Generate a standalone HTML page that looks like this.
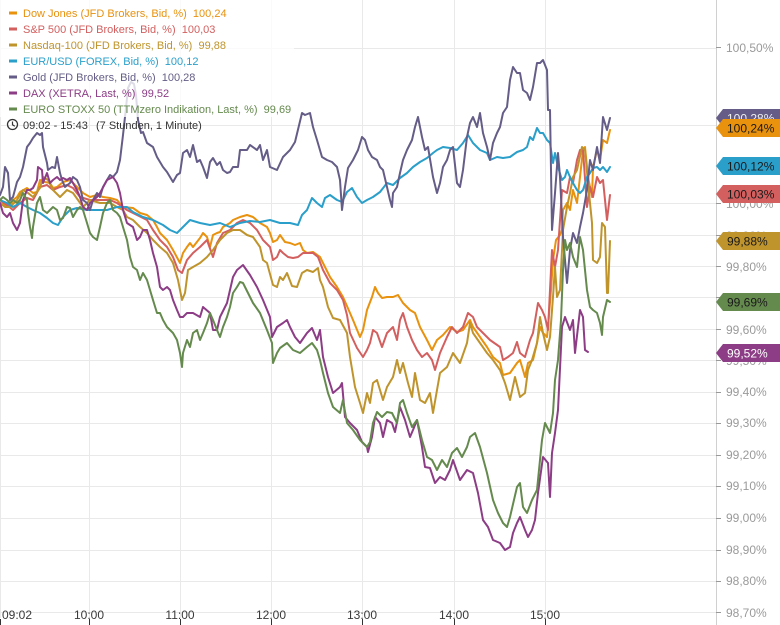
<!DOCTYPE html>
<html>
<head>
<meta charset="utf-8">
<style>
  html,body{margin:0;padding:0;background:#fff;}
  svg{display:block;}
  text{font-family:"Liberation Sans", Arial, sans-serif;}
</style>
</head>
<body>
<svg width="780" height="625" viewBox="0 0 780 625" xmlns="http://www.w3.org/2000/svg">
  <rect x="0" y="0" width="780" height="625" fill="#fff"/>
  <!-- horizontal grid -->
  <g stroke="#e9e9e9" stroke-width="1">
    <line x1="0" y1="48.5" x2="716" y2="48.5"/>
    <line x1="0" y1="125.5" x2="716" y2="125.5"/>
    <line x1="0" y1="203.5" x2="716" y2="203.5"/>
    <line x1="0" y1="235.5" x2="716" y2="235.5"/>
    <line x1="0" y1="266.5" x2="716" y2="266.5"/>
    <line x1="0" y1="297.5" x2="716" y2="297.5"/>
    <line x1="0" y1="329.5" x2="716" y2="329.5"/>
    <line x1="0" y1="360.5" x2="716" y2="360.5"/>
    <line x1="0" y1="392.5" x2="716" y2="392.5"/>
    <line x1="0" y1="423.5" x2="716" y2="423.5"/>
    <line x1="0" y1="455.5" x2="716" y2="455.5"/>
    <line x1="0" y1="486.5" x2="716" y2="486.5"/>
    <line x1="0" y1="518.5" x2="716" y2="518.5"/>
    <line x1="0" y1="550.5" x2="716" y2="550.5"/>
    <line x1="0" y1="581.5" x2="716" y2="581.5"/>
    <line x1="0" y1="612.5" x2="716" y2="612.5"/>
  </g>
  <!-- vertical grid -->
  <g stroke="#e9e9e9" stroke-width="1">
    <line x1="0.5" y1="0" x2="0.5" y2="618"/>
    <line x1="89.5" y1="0" x2="89.5" y2="618"/>
    <line x1="180.5" y1="0" x2="180.5" y2="618"/>
    <line x1="271.5" y1="0" x2="271.5" y2="618"/>
    <line x1="362.5" y1="0" x2="362.5" y2="618"/>
    <line x1="454.5" y1="0" x2="454.5" y2="618"/>
    <line x1="545.5" y1="0" x2="545.5" y2="618"/>
  </g>
  <!-- right axis line -->
  <line x1="716.5" y1="0" x2="716.5" y2="625" stroke="#d0d0d0" stroke-width="1"/>
  <!-- right ticks -->
  <g stroke="#999" stroke-width="1">
    <line x1="716" y1="47.5" x2="721" y2="47.5"/>
    <line x1="716" y1="203.5" x2="721" y2="203.5"/>
    <line x1="716" y1="235.5" x2="721" y2="235.5"/>
    <line x1="716" y1="266.5" x2="721" y2="266.5"/>
    <line x1="716" y1="297.5" x2="721" y2="297.5"/>
    <line x1="716" y1="329.5" x2="721" y2="329.5"/>
    <line x1="716" y1="360.5" x2="721" y2="360.5"/>
    <line x1="716" y1="392.5" x2="721" y2="392.5"/>
    <line x1="716" y1="423.5" x2="721" y2="423.5"/>
    <line x1="716" y1="455.5" x2="721" y2="455.5"/>
    <line x1="716" y1="486.5" x2="721" y2="486.5"/>
    <line x1="716" y1="518.5" x2="721" y2="518.5"/>
    <line x1="716" y1="550.5" x2="721" y2="550.5"/>
    <line x1="716" y1="581.5" x2="721" y2="581.5"/>
    <line x1="716" y1="612.5" x2="721" y2="612.5"/>
  </g>
  <!-- right labels -->
  <g fill="#9a9a9a" font-size="12">
    <text x="726" y="52">100,50%</text>
    <text x="726" y="208">100,00%</text>
    <text x="726" y="240">99,90%</text>
    <text x="726" y="271">99,80%</text>
    <text x="726" y="302">99,70%</text>
    <text x="726" y="334">99,60%</text>
    <text x="726" y="365">99,50%</text>
    <text x="726" y="396">99,40%</text>
    <text x="726" y="427">99,30%</text>
    <text x="726" y="459">99,20%</text>
    <text x="726" y="490">99,10%</text>
    <text x="726" y="522">99,00%</text>
    <text x="726" y="554">98,90%</text>
    <text x="726" y="585">98,80%</text>
    <text x="726" y="617">98,70%</text>
  </g>
  <!-- bottom ticks -->
  <g stroke="#333" stroke-width="1">
    <line x1="0.5" y1="619" x2="0.5" y2="625"/>
    <line x1="89.5" y1="619" x2="89.5" y2="625"/>
    <line x1="180.5" y1="619" x2="180.5" y2="625"/>
    <line x1="271.5" y1="619" x2="271.5" y2="625"/>
    <line x1="362.5" y1="619" x2="362.5" y2="625"/>
    <line x1="454.5" y1="619" x2="454.5" y2="625"/>
    <line x1="545.5" y1="619" x2="545.5" y2="625"/>
  </g>
  <!-- x labels -->
  <g fill="#3a3a3a" font-size="12">
    <text x="2" y="619">09:02</text>
    <text x="89" y="619" text-anchor="middle">10:00</text>
    <text x="180" y="619" text-anchor="middle">11:00</text>
    <text x="271" y="619" text-anchor="middle">12:00</text>
    <text x="362" y="619" text-anchor="middle">13:00</text>
    <text x="454" y="619" text-anchor="middle">14:00</text>
    <text x="545" y="619" text-anchor="middle">15:00</text>
  </g>

  <g fill="none" stroke-width="2" stroke-linejoin="round" stroke-linecap="round">
    <!-- Dow Jones -->
    <polyline stroke="#e8920e" points="0,200 5,205 10,207 13,200 17,197 20,192 27,188 33,193 37,192 40,180 45,182 50,183 53,188 57,187 63,182 70,180 77,187 83,193 90,197 97,195 103,197 110,198 117,200 123,207 133,208 140,213 147,215 153,220 157,227 160,233 167,240 173,250 180,263 183,253 187,247 190,243 193,247 200,238 203,233 207,237 210,247 213,235 217,233 220,232 223,227 230,223 233,220 240,217 247,215 253,217 260,223 267,227 270,233 273,242 277,240 280,235 285,242 290,243 295,245 300,243 303,250 307,253 313,252 320,257 323,263 330,277 337,287 343,297 350,313 353,320 360,337 363,330 367,310 372,297 375,287 378,293 382,298 387,297 393,297 398,295 403,303 410,310 415,313 420,327 427,340 432,350 437,340 443,335 450,327 457,332 463,330 470,320 473,327 480,337 487,347 493,357 500,363 503,375 510,373 517,363 520,360 523,370 525,377 528,363 533,360 537,343 540,327 543,333 547,337 548,327 551,290 553,260 556,240 560,235 562,230 563,210 567,203 570,210 573,190 577,203 580,177 583,150 585,147 588,177 592,197 593,167 597,150 600,160 603,140 607,143 610,130"/>
    <!-- S&P 500 -->
    <polyline stroke="#d35f5f" points="0,200 7,205 13,210 20,203 27,198 33,200 40,187 47,185 53,190 60,187 67,185 73,188 80,197 90,200 100,200 110,200 117,203 127,210 137,215 147,220 153,230 160,240 167,247 173,257 178,270 182,273 187,260 193,253 200,247 207,240 213,257 217,243 223,233 230,230 237,223 243,220 250,223 257,230 263,240 270,247 273,260 277,257 280,250 283,253 288,257 293,258 298,257 303,253 313,253 318,257 323,270 330,283 337,290 343,300 347,315 350,333 357,348 363,357 367,350 370,343 373,330 377,333 382,347 387,333 393,327 397,340 400,320 403,313 407,327 412,340 417,350 422,357 427,353 432,360 435,370 440,353 447,337 452,327 457,333 463,327 468,313 473,317 477,327 483,333 490,340 500,347 503,360 508,357 513,353 517,342 520,353 525,357 530,340 533,333 538,303 542,310 545,317 548,330 550,290 552,250 555,267 558,250 562,190 567,193 570,177 573,183 577,160 580,150 583,150 587,207 590,187 593,197 597,177 600,183 603,180 607,220 610,195"/>
    <!-- Nasdaq -->
    <polyline stroke="#bf942c" points="0,203 5,207 10,207 17,200 23,190 28,193 33,197 40,188 43,177 48,180 53,190 60,197 67,190 73,193 83,207 90,200 100,203 110,203 117,207 123,210 127,217 133,220 140,227 147,233 153,240 160,247 167,253 173,263 178,280 182,300 185,293 188,270 193,267 200,263 207,257 213,250 220,240 227,233 233,230 240,230 247,235 253,237 260,247 263,260 267,263 273,285 277,287 280,277 283,280 287,273 292,286 297,287 302,273 307,270 313,272 318,268 320,280 323,287 328,307 333,318 340,320 347,333 350,357 355,387 360,403 363,413 367,393 370,403 373,383 377,380 380,390 383,400 387,387 393,377 397,360 400,373 403,363 408,383 412,397 415,373 420,400 425,403 430,393 433,413 437,390 440,373 447,367 453,353 460,363 467,343 470,323 473,333 480,343 487,353 493,360 500,370 505,383 510,400 515,377 520,397 525,393 528,370 532,360 537,343 540,317 543,333 547,350 550,337 553,297 555,267 557,297 560,290 563,230 567,207 570,193 573,177 577,170 582,147 585,150 588,183 592,223 593,260 597,263 600,257 602,223 605,227 607,293 608,293 610,241"/>
    <!-- EUR/USD -->
    <polyline stroke="#2a9fca" points="0,200 7,203 13,207 20,203 27,207 33,210 40,213 47,218 53,223 58,225 63,217 70,210 77,208 87,210 97,210 107,210 117,207 127,207 133,212 143,217 153,220 163,225 170,230 177,233 182,228 190,220 200,223 210,225 220,223 230,227 240,223 250,221 260,222 270,220 280,223 290,223 298,225 302,215 307,210 312,198 317,203 322,207 325,198 330,195 337,200 342,202 347,192 352,188 357,197 362,203 367,200 373,197 380,192 387,183 393,185 400,178 407,173 413,167 420,162 427,158 433,153 437,150 443,147 450,148 457,150 463,143 468,135 473,143 480,150 487,153 490,160 497,157 503,158 510,157 517,152 523,150 527,147 530,137 533,140 537,128 540,133 543,133 547,140 550,143 553,163 555,153 558,167 562,180 565,177 567,170 570,177 573,183 577,190 580,193 583,190 587,177 590,173 593,168 597,167 600,170 603,167 607,172 610,167"/>
    <!-- Gold -->
    <polyline stroke="#655d87" points="0,195 3,187 5,167 8,173 10,200 13,197 17,182 20,177 23,167 27,147 30,143 33,138 37,133 40,135 42,133 43,147 47,163 48,170 52,167 55,168 57,157 60,173 62,180 65,187 70,183 73,177 77,180 80,187 83,200 87,203 90,210 93,200 97,193 100,197 103,187 107,180 110,175 113,177 117,172 120,160 123,135 126,108 128,88 131,82 134,84 136,95 138,120 141,133 143,132 147,143 153,147 157,157 160,162 163,167 167,172 170,177 173,182 177,175 180,173 183,153 187,150 190,157 193,145 197,162 200,160 203,167 207,178 210,162 213,158 217,165 220,162 223,170 227,173 230,172 233,167 238,167 240,150 247,150 250,145 257,150 260,145 263,160 267,150 270,167 277,170 283,157 290,150 295,142 302,113 305,115 310,113 313,127 317,140 322,157 327,160 332,162 337,167 340,180 342,210 345,187 348,168 353,160 358,150 362,137 365,140 368,150 372,157 377,160 380,167 383,170 387,187 390,200 392,207 393,193 397,187 400,173 403,160 407,150 412,140 415,127 418,117 422,137 425,150 428,147 433,177 437,193 440,183 443,167 447,160 450,150 453,147 457,183 460,187 463,170 467,137 470,123 473,117 477,127 480,113 483,133 487,147 490,160 493,143 497,133 500,127 503,113 507,107 510,80 513,67 517,73 520,73 523,90 527,93 530,100 533,87 537,63 540,63 543,60 547,70 548,110 550,110 552,230 555,193 558,153 560,177 563,237 567,283 570,250 573,233 577,243 580,227 583,213 587,190 590,160 593,170 597,147 600,163 603,117 607,130 610,118"/>
    <!-- DAX -->
    <polyline stroke="#8c3d86" points="0,203 3,213 7,217 10,213 13,223 17,230 20,223 23,200 27,190 30,190 33,188 37,180 38,167 42,170 43,183 47,173 50,183 53,180 57,177 60,180 63,178 67,180 70,178 73,183 77,190 80,197 83,207 87,210 90,203 97,197 100,193 107,180 113,177 117,183 120,193 123,210 127,223 133,227 137,240 140,237 143,230 147,230 150,240 153,253 157,267 160,287 163,290 167,287 170,290 173,300 177,310 180,317 183,317 187,313 193,313 200,317 203,307 210,313 213,330 217,330 220,317 227,303 233,277 237,270 243,265 250,275 257,287 263,300 270,317 272,337 277,327 283,323 287,320 290,327 295,337 300,343 307,333 312,328 317,340 320,330 323,357 328,377 333,393 340,387 342,383 345,417 350,423 357,430 362,442 367,447 368,452 372,437 375,417 380,423 383,437 387,420 392,423 395,432 400,407 405,420 410,437 413,430 417,420 422,447 425,467 430,468 435,483 440,477 445,480 450,470 453,460 460,480 467,470 473,473 478,493 483,520 488,527 493,540 500,543 505,550 510,547 513,533 517,523 520,517 525,530 528,537 532,530 535,520 538,493 543,457 548,463 550,497 552,453 555,433 558,410 562,327 565,317 570,330 573,320 575,353 580,310 583,317 585,350 588,352"/>
    <!-- EURO STOXX 50 -->
    <polyline stroke="#658a4e" points="0,200 3,197 7,200 10,203 13,200 17,203 20,200 23,193 27,200 28,213 30,227 32,238 33,227 37,203 40,197 43,210 47,213 50,210 53,207 57,210 60,220 63,218 67,207 70,208 73,217 77,210 80,207 83,210 87,223 90,233 93,237 97,240 100,227 103,213 107,203 110,200 113,210 117,213 120,217 123,227 127,240 130,257 133,267 137,270 140,280 143,273 147,280 150,290 153,300 157,313 160,313 163,320 167,327 170,330 173,333 177,340 180,353 182,367 183,353 187,340 190,347 193,333 197,330 200,340 203,333 207,323 210,313 213,320 217,330 220,337 223,327 227,317 230,307 233,293 237,287 240,282 243,283 248,293 253,303 260,313 267,330 272,343 273,363 277,353 280,348 287,343 293,350 300,353 307,347 312,343 317,350 320,360 323,373 328,393 333,407 340,413 343,400 347,423 353,430 360,440 367,447 370,442 373,423 377,412 382,417 387,412 392,413 397,423 400,403 403,400 407,413 412,427 417,420 422,440 427,457 432,460 437,470 442,460 447,467 452,453 457,448 462,457 467,447 470,437 475,433 480,447 487,473 493,500 498,513 503,523 507,527 510,517 517,487 520,483 523,507 527,513 532,500 537,490 542,440 545,423 550,433 553,413 555,380 558,360 561,320 563,270 565,240 567,250 570,243 573,257 577,267 580,237 583,250 587,290 590,307 593,310 597,313 600,323 602,335 603,317 607,300 610,302"/>
  </g>

  <!-- legend background -->
  <rect x="0" y="0" width="294" height="117" fill="#fff" fill-opacity="0.78"/>

  <!-- legend -->
  <g font-size="11">
    <rect x="9" y="11.5" width="8" height="3" fill="#e8920e"/>
    <text x="23" y="17" fill="#e8920e">Dow Jones (JFD Brokers, Bid, %)&#160; 100,24</text>
    <rect x="9" y="27.5" width="8" height="3" fill="#d35f5f"/>
    <text x="23" y="33" fill="#d35f5f">S&amp;P 500 (JFD Brokers, Bid, %)&#160; 100,03</text>
    <rect x="9" y="43.5" width="8" height="3" fill="#bf942c"/>
    <text x="23" y="49" fill="#bf942c">Nasdaq-100 (JFD Brokers, Bid, %)&#160; 99,88</text>
    <rect x="9" y="59.5" width="8" height="3" fill="#2a9fca"/>
    <text x="23" y="65" fill="#2a9fca">EUR/USD (FOREX, Bid, %)&#160; 100,12</text>
    <rect x="9" y="75.5" width="8" height="3" fill="#655d87"/>
    <text x="23" y="81" fill="#655d87">Gold (JFD Brokers, Bid, %)&#160; 100,28</text>
    <rect x="9" y="91.5" width="8" height="3" fill="#8c3d86"/>
    <text x="23" y="97" fill="#8c3d86">DAX (XETRA, Last, %)&#160; 99,52</text>
    <rect x="9" y="107.5" width="8" height="3" fill="#658a4e"/>
    <text x="23" y="113" fill="#658a4e">EURO STOXX 50 (TTMzero Indikation, Last, %)&#160; 99,69</text>
    <circle cx="12.5" cy="124.5" r="5" fill="none" stroke="#333" stroke-width="1.3"/>
    <polyline points="12.5,121.5 12.5,124.8 14.8,126.3" fill="none" stroke="#333" stroke-width="1.2"/>
    <text x="23" y="129" fill="#333">09:02 - 15:43</text>
    <text x="96" y="129" fill="#333">(7 Stunden, 1 Minute)</text>
  </g>

  <!-- badges -->
  <g font-size="12">
    <polygon points="716,118 723,109 780,109 780,127 723,127" fill="#655d87"/>
    <text x="727" y="122.5" fill="#eeeeee">100,28%</text>
    <polygon points="716,128 723,119 780,119 780,137 723,137" fill="#e8920e"/>
    <text x="727" y="132.5" fill="#1a1a1a">100,24%</text>
    <polygon points="716,166 723,157 780,157 780,175 723,175" fill="#2a9fca"/>
    <text x="727" y="170.5" fill="#1a1a1a">100,12%</text>
    <polygon points="716,194 723,185 780,185 780,203 723,203" fill="#d35f5f"/>
    <text x="727" y="198.5" fill="#1a1a1a">100,03%</text>
    <polygon points="716,241 723,232 780,232 780,250 723,250" fill="#bf942c"/>
    <text x="727" y="245.5" fill="#1a1a1a">99,88%</text>
    <polygon points="716,302 723,293 780,293 780,311 723,311" fill="#658a4e"/>
    <text x="727" y="306.5" fill="#1a1a1a">99,69%</text>
    <polygon points="716,353 723,344 780,344 780,362 723,362" fill="#8c3d86"/>
    <text x="727" y="357.5" fill="#ffffff">99,52%</text>
  </g>
</svg>
</body>
</html>
